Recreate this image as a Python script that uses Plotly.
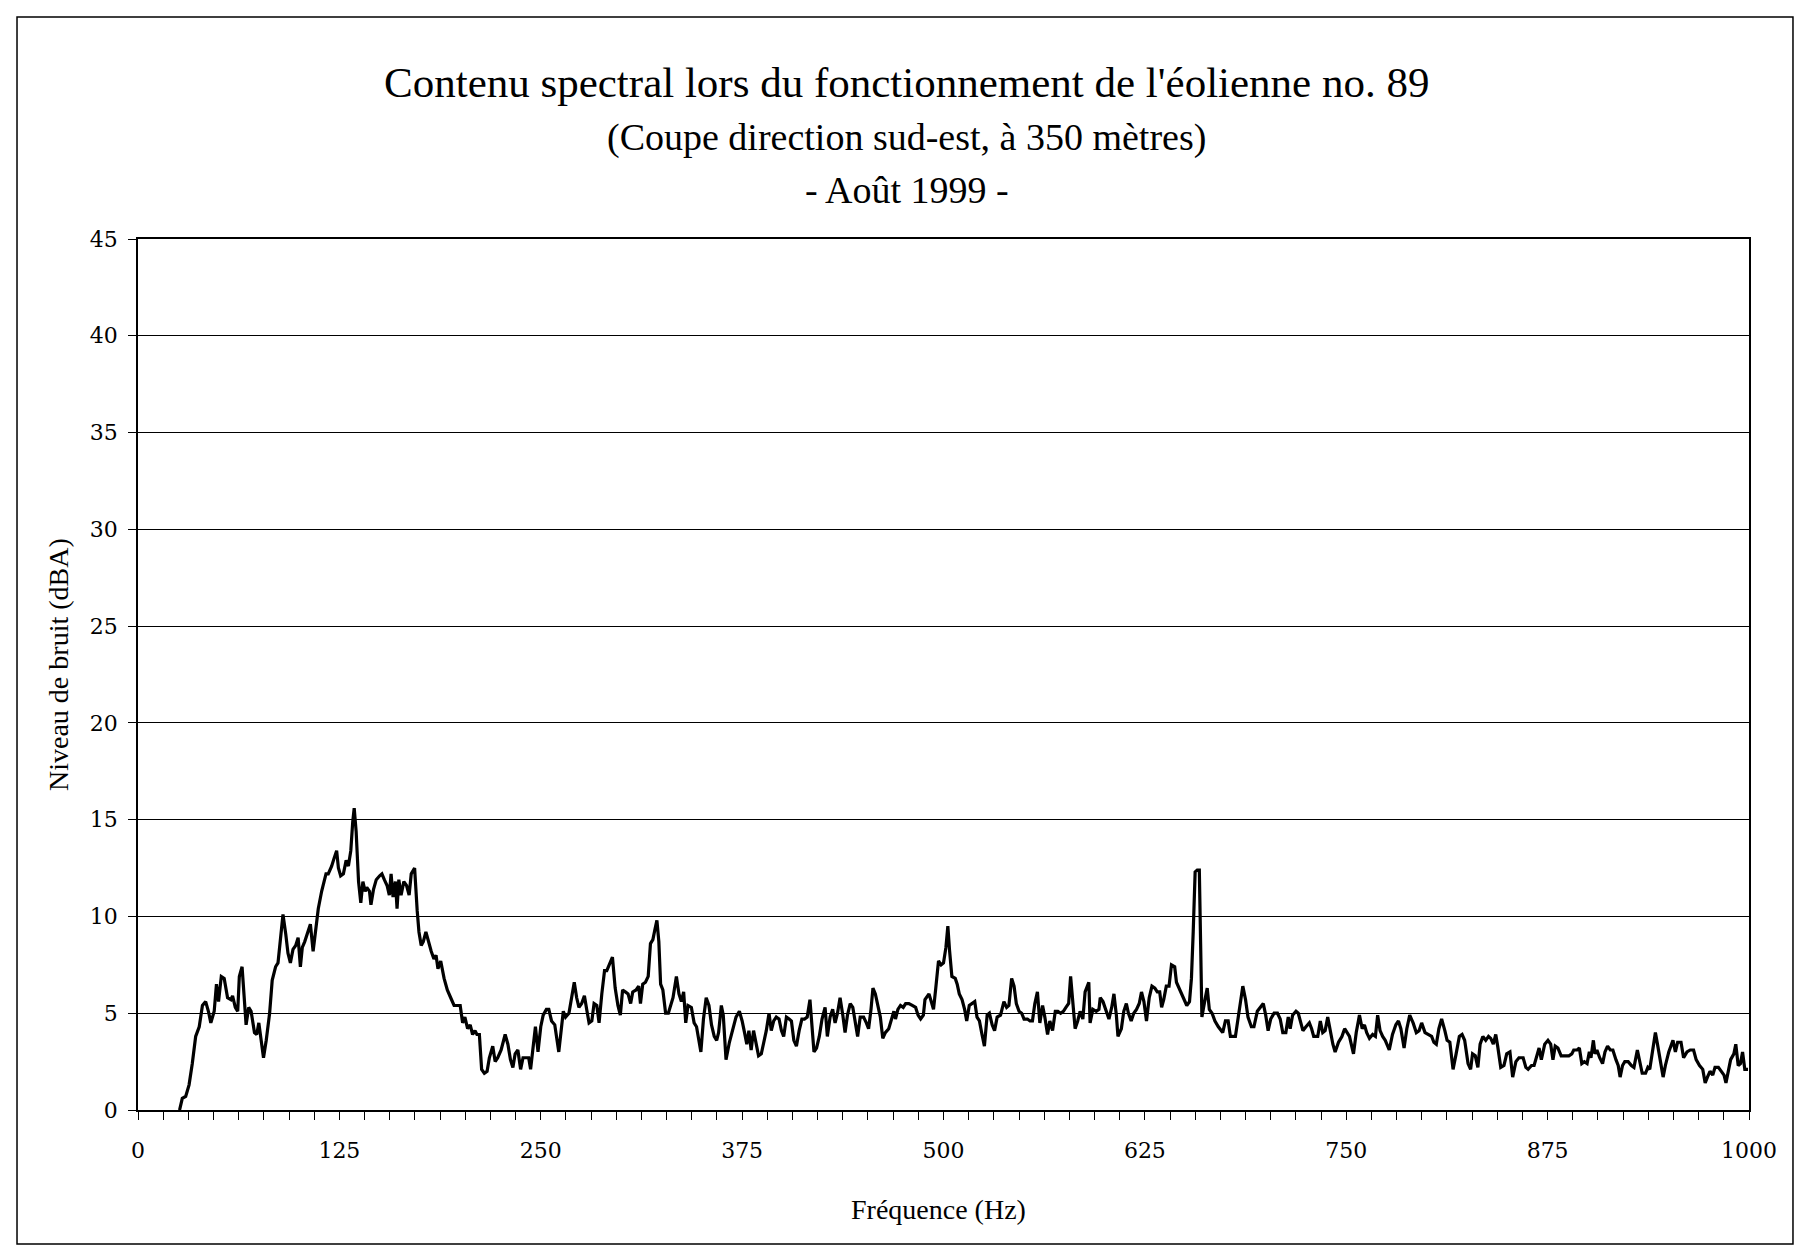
import plotly.graph_objects as go

# Spectre mesuré : fréquence (Hz) et niveau (dBA)
freq_low = [25.8, 27.5, 29.6, 31.7, 33.7, 35.8, 38.0, 40.0, 42.0, 43.7, 45.2, 47.3, 48.7, 50.0, 51.7, 53.5,
            55.6, 57.7, 58.7, 60.4, 61.9, 62.9, 64.6, 66.0, 67.1, 68.7, 70.2, 72.3, 73.7, 75.0, 76.4, 77.9,
            79.6, 81.7, 83.3, 85.4, 86.9, 88.3, 90.0, 91.7, 93.1, 94.6, 96.2, 97.9, 99.4, 100.8, 102.0, 103.5,
            105.6, 107.0, 108.7, 110.4, 111.9, 114.0, 116.7, 118.1, 120.2, 121.7, 123.3, 124.4, 125.8, 127.5,
            129.2, 130.6, 132.1, 133.3, 134.2, 135.4, 136.9, 138.3, 139.6, 141.0, 142.0, 143.7, 144.6, 146.2,
            147.9, 150.0, 151.4, 152.9, 154.6, 156.0, 157.1, 158.3, 159.8, 160.8, 161.9, 163.3, 165.0, 166.7,
            168.3, 169.6, 171.7, 173.3, 174.4, 175.8, 177.1, 178.7, 180.6, 182.0, 183.7, 185.0, 186.2, 187.9,
            190.0, 192.0, 194.1, 196.2, 198.3, 200.0, 201.5, 202.9, 204.6, 206.2, 207.7, 209.2, 210.4, 211.9,
            213.3, 215.0, 216.7, 218.1, 220.2, 221.7, 223.3, 225.4, 227.9, 229.6, 231.2, 232.7, 234.1, 235.8,
            237.5, 239.0, 241.0, 242.5, 243.7, 245.2, 246.7, 248.3, 250.0]
level_low = [0.0, 0.6, 0.7, 1.3, 2.4, 3.8, 4.3, 5.4, 5.6, 5.1, 4.5, 5.1, 6.5, 5.6, 6.9, 6.8,
             5.8, 5.7, 5.9, 5.3, 5.1, 6.9, 7.4, 5.5, 4.4, 5.3, 5.1, 4.0, 3.9, 4.5, 3.6, 2.7,
             3.6, 5.0, 6.7, 7.4, 7.6, 8.6, 10.1, 9.1, 8.1, 7.6, 8.3, 8.5, 8.9, 7.4, 8.4, 8.7,
             9.3, 9.6, 8.2, 9.3, 10.4, 11.3, 12.2, 12.2, 12.6, 13.0, 13.4, 12.5, 12.1, 12.2,
             12.9, 12.6, 13.4, 14.9, 15.6, 14.4, 11.8, 10.7, 11.8, 11.3, 11.5, 11.3, 10.6, 11.4,
             11.9, 12.1, 12.2, 11.9, 11.6, 11.1, 12.2, 11.0, 11.8, 10.4, 11.9, 11.1, 11.8, 11.6,
             11.1, 12.2, 12.5, 10.3, 9.2, 8.5, 8.7, 9.2, 8.6, 8.2, 7.8, 8.0, 7.3, 7.7,
             6.8, 6.2, 5.8, 5.4, 5.4, 5.4, 4.5, 4.8, 4.2, 4.4, 3.9, 4.1, 3.9, 3.9,
             2.1, 1.9, 2.0, 2.7, 3.3, 2.5, 2.7, 3.1, 3.9, 3.4, 2.6, 2.2, 2.9, 3.1,
             2.1, 2.7, 2.7, 2.7, 2.1, 3.4, 4.3, 3.0, 4.3]

freq_mid1 = [251.5, 253.5, 255.0, 256.7, 258.7, 261.2, 264.0, 265.4, 267.5, 269.2, 270.8, 272.3, 273.7,
             275.4, 277.1, 278.5, 280.0, 281.7, 283.1, 284.8, 286.2, 287.9, 289.6, 291.0, 292.5, 294.5,
             296.2, 297.9, 299.4, 300.8, 302.5, 304.2, 305.8, 307.1, 309.2, 310.8, 311.9, 313.3, 315.0,
             316.7, 318.1, 319.6, 320.8, 322.1, 323.3, 324.4, 325.8, 327.5, 329.2, 330.6, 332.1, 334.2,
             335.8, 337.3, 338.7, 340.0, 341.4, 343.5, 345.2, 346.7, 347.9, 349.4, 351.0, 352.7, 354.4,
             356.0, 357.7, 359.2, 360.4, 362.1, 363.3, 365.0, 367.1, 369.2, 371.2, 373.3, 375.0, 376.5,
             377.9, 379.2, 380.6, 382.1, 383.7, 385.2, 386.9, 388.3, 390.0, 391.7, 393.1, 394.6, 396.2,
             397.9, 399.4, 400.8, 402.5, 404.2, 405.6, 407.1, 408.7, 410.4, 412.1, 413.7, 415.4, 417.1,
             418.3, 419.6, 421.2, 422.9, 424.6, 426.5, 427.9, 429.6, 431.2, 432.7, 434.2, 435.8, 437.5,
             438.9, 440.4, 442.1, 443.7, 445.2, 446.7, 448.3, 450.4, 452.1, 453.5, 455.0, 456.2, 457.7,
             459.2, 460.8, 462.3, 463.9, 466.0, 467.5, 469.2, 470.2, 471.7, 473.3, 475.0, 476.5, 478.5,
             480.6, 482.7, 484.2, 485.8, 487.5]
level_mid1 = [4.9, 5.2, 5.2, 4.6, 4.4, 3.0, 5.1, 4.8, 5.0, 5.8, 6.6, 5.8, 5.3,
              5.5, 5.9, 5.2, 4.5, 4.6, 5.5, 5.4, 4.5, 6.0, 7.2, 7.2, 7.5, 7.9,
              6.3, 5.4, 4.9, 6.2, 6.1, 6.0, 5.5, 6.1, 6.2, 6.4, 5.5, 6.5, 6.6,
              6.9, 8.6, 8.8, 9.3, 9.8, 8.7, 6.5, 6.2, 5.0, 5.0, 5.4, 5.8, 6.9,
              6.0, 5.6, 6.1, 4.5, 5.4, 5.3, 4.5, 4.3, 3.8, 3.0, 4.7, 5.8, 5.4,
              4.4, 3.8, 3.6, 4.0, 5.4, 4.9, 2.6, 3.5, 4.1, 4.8, 5.1, 4.6, 4.0,
              3.4, 4.1, 3.1, 4.1, 3.4, 2.8, 2.9, 3.4, 4.1, 5.0, 4.1, 4.6, 4.8,
              4.7, 4.1, 3.8, 4.8, 4.7, 4.6, 3.6, 3.3, 4.1, 4.7, 4.7, 4.8, 5.7,
              4.4, 3.0, 3.2, 3.8, 4.7, 5.3, 3.8, 4.8, 5.2, 4.5, 5.0, 5.8, 4.9,
              4.0, 4.9, 5.5, 5.3, 4.5, 3.8, 4.8, 4.8, 4.5, 4.2, 5.2, 6.3, 6.0,
              5.5, 4.8, 3.7, 4.0, 4.2, 4.6, 5.1, 4.7, 5.2, 5.4, 5.3, 5.5, 5.5,
              5.4, 5.3, 4.9, 4.7, 4.9]

freq_mid2 = [488.5, 491.0, 493.8, 495.2, 496.9, 498.5, 500.0, 501.5, 502.7, 503.7, 505.2, 507.3, 508.5,
             509.8, 511.5, 513.1, 514.4, 516.0, 517.7, 519.4, 520.8, 522.3, 523.9, 525.4, 527.1, 528.5,
             530.2, 531.7, 533.3, 535.4, 537.5, 539.2, 540.6, 542.3, 543.8, 545.2, 546.9, 548.5, 550.0,
             552.1, 553.7, 555.2, 556.7, 558.3, 559.8, 561.5, 562.9, 564.6, 566.0, 567.7, 569.4, 571.0,
             572.7, 574.4, 576.0, 577.7, 578.9, 580.2, 581.7, 583.3, 584.8, 586.5, 587.9, 590.2, 591.0,
             592.7, 594.8, 596.5, 597.3, 599.0, 601.0, 602.7, 604.4, 605.8, 607.3, 608.3, 610.4, 611.9,
             613.5, 614.8, 616.5, 618.1, 619.8, 621.5, 622.9, 624.4, 626.0, 627.7, 629.4, 631.2, 632.7,
             634.2, 635.4, 636.7, 638.3, 640.0, 641.5, 643.5, 644.6, 646.2, 647.9, 649.6, 651.0, 652.7,
             653.9, 655.0, 656.2, 657.5, 658.8, 659.6, 660.4, 662.1, 663.7, 665.0, 666.7, 668.5, 670.6,
             673.3, 675.0, 676.7, 678.1, 681.2, 683.3, 685.8, 687.5, 689.0, 691.1, 692.7, 694.8, 696.9,
             698.5, 700.0, 701.5, 703.1, 705.2, 707.3, 709.0, 710.6, 712.5, 714.0, 715.2, 716.7, 718.8,
             720.2, 721.5, 723.1, 725.0, 727.1, 728.5, 729.8, 732.3, 733.9, 735.4, 736.9, 738.5, 740.0,
             741.7, 743.1, 745.2, 747.3, 749.0]
level_mid2 = [5.7, 6.0, 5.2, 6.3, 7.7, 7.5, 7.6, 8.4, 9.5, 8.3, 6.9, 6.8, 6.5,
              6.0, 5.7, 5.2, 4.6, 5.4, 5.5, 5.6, 4.8, 4.6, 3.9, 3.3, 4.9, 5.0,
              4.4, 4.1, 4.8, 4.9, 5.6, 5.3, 5.4, 6.8, 6.4, 5.5, 5.1, 5.0, 4.7,
              4.7, 4.6, 4.6, 5.5, 6.1, 4.5, 5.4, 4.8, 3.9, 4.6, 4.1, 5.1, 5.1,
              5.0, 5.1, 5.3, 5.5, 6.9, 5.6, 4.2, 4.6, 5.1, 4.7, 6.1, 6.6, 4.5,
              5.2, 5.1, 5.2, 5.8, 5.6, 5.1, 4.7, 5.3, 6.0, 4.9, 3.8, 4.2, 5.1,
              5.5, 5.0, 4.6, 5.0, 5.2, 5.5, 6.1, 5.6, 4.6, 5.8, 6.4, 6.3, 6.1,
              6.1, 5.3, 5.7, 6.4, 6.4, 7.5, 7.4, 6.6, 6.3, 5.9, 5.6, 5.4, 5.6,
              6.8, 9.2, 12.3, 12.4, 12.4, 8.6, 4.8, 5.6, 6.3, 5.2, 5.0, 4.6, 4.3,
              4.0, 4.6, 4.6, 3.8, 3.8, 5.0, 6.4, 5.7, 4.8, 4.3, 4.3, 5.1, 5.3,
              5.5, 4.9, 4.1, 4.7, 5.0, 5.0, 4.7, 4.0, 4.0, 4.8, 4.2, 4.9, 5.1,
              5.0, 4.6, 4.1, 4.3, 4.5, 4.2, 3.8, 3.8, 4.6, 4.0, 4.1, 4.8, 4.1,
              3.4, 3.0, 3.5, 3.8, 4.2]

freq_high = [752.0, 754.5, 756.2, 758.2, 759.9, 761.3, 762.7, 764.4, 766.4, 768.1, 769.5, 771.0, 772.6,
             774.2, 776.7, 778.7, 780.8, 782.4, 783.9, 785.9, 787.6, 789.4, 791.5, 793.5, 795.2, 796.8,
             798.9, 800.9, 803.0, 804.4, 805.9, 807.5, 809.2, 811.2, 812.6, 814.3, 816.3, 818.2, 820.2,
             821.9, 823.5, 825.6, 827.2, 828.4, 830.1, 831.7, 833.1, 834.8, 836.6, 838.3, 839.7, 841.3,
             842.8, 844.0, 845.9, 847.9, 849.6, 851.6, 853.3, 855.3, 857.2, 859.8, 861.5, 862.9, 865.0,
             866.6, 868.1, 869.7, 871.1, 873.2, 875.2, 876.9, 878.3, 879.7, 881.4, 883.4, 885.5, 888.2,
             890.0, 891.2, 893.3, 894.7, 896.2, 897.8, 899.5, 900.9, 901.9, 903.4, 904.4, 905.6, 907.3,
             909.1, 910.6, 912.2, 913.9, 915.5, 917.4, 918.8, 920.0, 921.5, 922.9, 925.0, 927.0, 928.6,
             930.7, 932.3, 933.7, 935.8, 937.2, 938.4, 939.9, 941.9, 943.4, 945.0, 946.7, 948.1, 950.2,
             952.8, 954.3, 955.7, 957.8, 959.4, 961.5, 963.5, 965.6, 967.2, 969.3, 971.3, 972.8, 974.2,
             975.8, 977.5, 978.9, 981.0, 983.0, 984.5, 985.7, 987.1, 988.6, 990.6, 991.8, 993.3, 994.7,
             996.0, 997.4, 999.4]
level_high = [3.8, 2.9, 4.0, 4.9, 4.2, 4.4, 4.0, 3.7, 3.9, 3.8, 4.9, 4.1, 3.8,
              3.6, 3.1, 3.9, 4.4, 4.6, 4.2, 3.2, 4.2, 4.9, 4.5, 4.0, 4.1, 4.5,
              4.0, 3.9, 3.8, 3.5, 3.4, 4.2, 4.7, 4.1, 3.6, 3.5, 2.1, 2.9, 3.8,
              3.9, 3.6, 2.4, 2.1, 2.9, 2.8, 2.2, 3.4, 3.8, 3.6, 3.8, 3.7, 3.4,
              3.9, 3.3, 2.2, 2.3, 2.9, 3.0, 1.7, 2.5, 2.7, 2.7, 2.2, 2.1, 2.3,
              2.3, 2.8, 3.2, 2.6, 3.4, 3.6, 3.4, 2.6, 3.3, 3.2, 2.8, 2.8, 2.8,
              2.9, 3.1, 3.1, 3.2, 2.4, 2.5, 2.4, 3.0, 2.7, 3.6, 2.9, 3.1, 2.7,
              2.4, 3.0, 3.3, 3.1, 3.1, 2.6, 2.3, 1.7, 2.3, 2.5, 2.5, 2.3, 2.2,
              3.1, 2.5, 1.9, 1.9, 2.2, 2.1, 3.0, 4.0, 3.3, 2.5, 1.7, 2.3, 3.0,
              3.6, 3.0, 3.5, 3.5, 2.7, 3.0, 3.1, 3.1, 2.6, 2.3, 2.1, 1.4, 1.7,
              2.0, 1.8, 2.2, 2.2, 2.0, 1.8, 1.4, 2.0, 2.6, 2.9, 3.4, 2.3, 2.4,
              3.0, 2.1, 2.1]

freq_hz = freq_low + freq_mid1 + freq_mid2 + freq_high
level_dba = level_low + level_mid1 + level_mid2 + level_high

x_ticks = [0, 125, 250, 375, 500, 625, 750, 875, 1000]
y_ticks = [0, 5, 10, 15, 20, 25, 30, 35, 40, 45]

title_lines = [
    ("Contenu spectral lors du fonctionnement de l'éolienne no. 89", 43, 1.180),
    ("(Coupe direction sud-est, à 350 mètres)", 38, 1.116),
    ("- Août 1999 -", 38, 1.056),
]

serif = "Liberation Serif"
tick_font = dict(family="DejaVu Serif", size=22, color="black")

fig = go.Figure()
fig.add_trace(go.Scatter(
    x=freq_hz, y=level_dba, mode="lines",
    line=dict(color="black", width=3.2),
    hoverinfo="skip", showlegend=False,
))

fig.update_layout(
    width=1805, height=1257,
    margin=dict(l=138, r=56, t=239, b=147),
    paper_bgcolor="white", plot_bgcolor="white",
    showlegend=False,
)

fig.update_xaxes(
    range=[0, 1000], tickvals=x_ticks, ticktext=[str(v) for v in x_ticks],
    ticks="outside", ticklen=8, tickwidth=1, tickcolor="black",
    minor=dict(tick0=0, dtick=15.625, ticks="outside", ticklen=8, tickwidth=1,
               tickcolor="black", showgrid=False),
    showline=True, linecolor="black", linewidth=1.5, mirror=True,
    showgrid=False, zeroline=False,
    tickfont=tick_font, ticklabelstandoff=12,
)
fig.update_yaxes(
    range=[0, 45], tickvals=y_ticks,
    ticks="outside", ticklen=8, tickwidth=1, tickcolor="black",
    showline=True, linecolor="black", linewidth=1.5, mirror=True,
    showgrid=True, gridcolor="black", gridwidth=1.3, zeroline=False,
    tickfont=tick_font, ticklabelstandoff=6,
)

for text, size, ypos in title_lines:
    fig.add_annotation(text=text, xref="paper", yref="paper", x=0.4773, y=ypos,
                       xanchor="center", yanchor="middle", showarrow=False,
                       font=dict(family=serif, size=size, color="black"))

fig.add_annotation(text="Fréquence (Hz)", xref="paper", yref="paper", x=0.4966, y=-0.1137,
                   xanchor="center", yanchor="middle", showarrow=False,
                   font=dict(family=serif, size=28, color="black"))
fig.add_annotation(text="Niveau de bruit (dBA)", xref="paper", yref="paper", x=-0.0497, y=0.512,
                   xanchor="center", yanchor="middle", showarrow=False, textangle=-90,
                   font=dict(family=serif, size=28, color="black"))

# Cadre extérieur du graphique
fig.add_shape(type="rect", xref="paper", yref="paper",
              x0=-0.0751, x1=1.0273, y0=-0.1538, y1=1.2549,
              line=dict(color="black", width=1.5), fillcolor="rgba(0,0,0,0)", layer="below")

fig.write_html("out.html")
